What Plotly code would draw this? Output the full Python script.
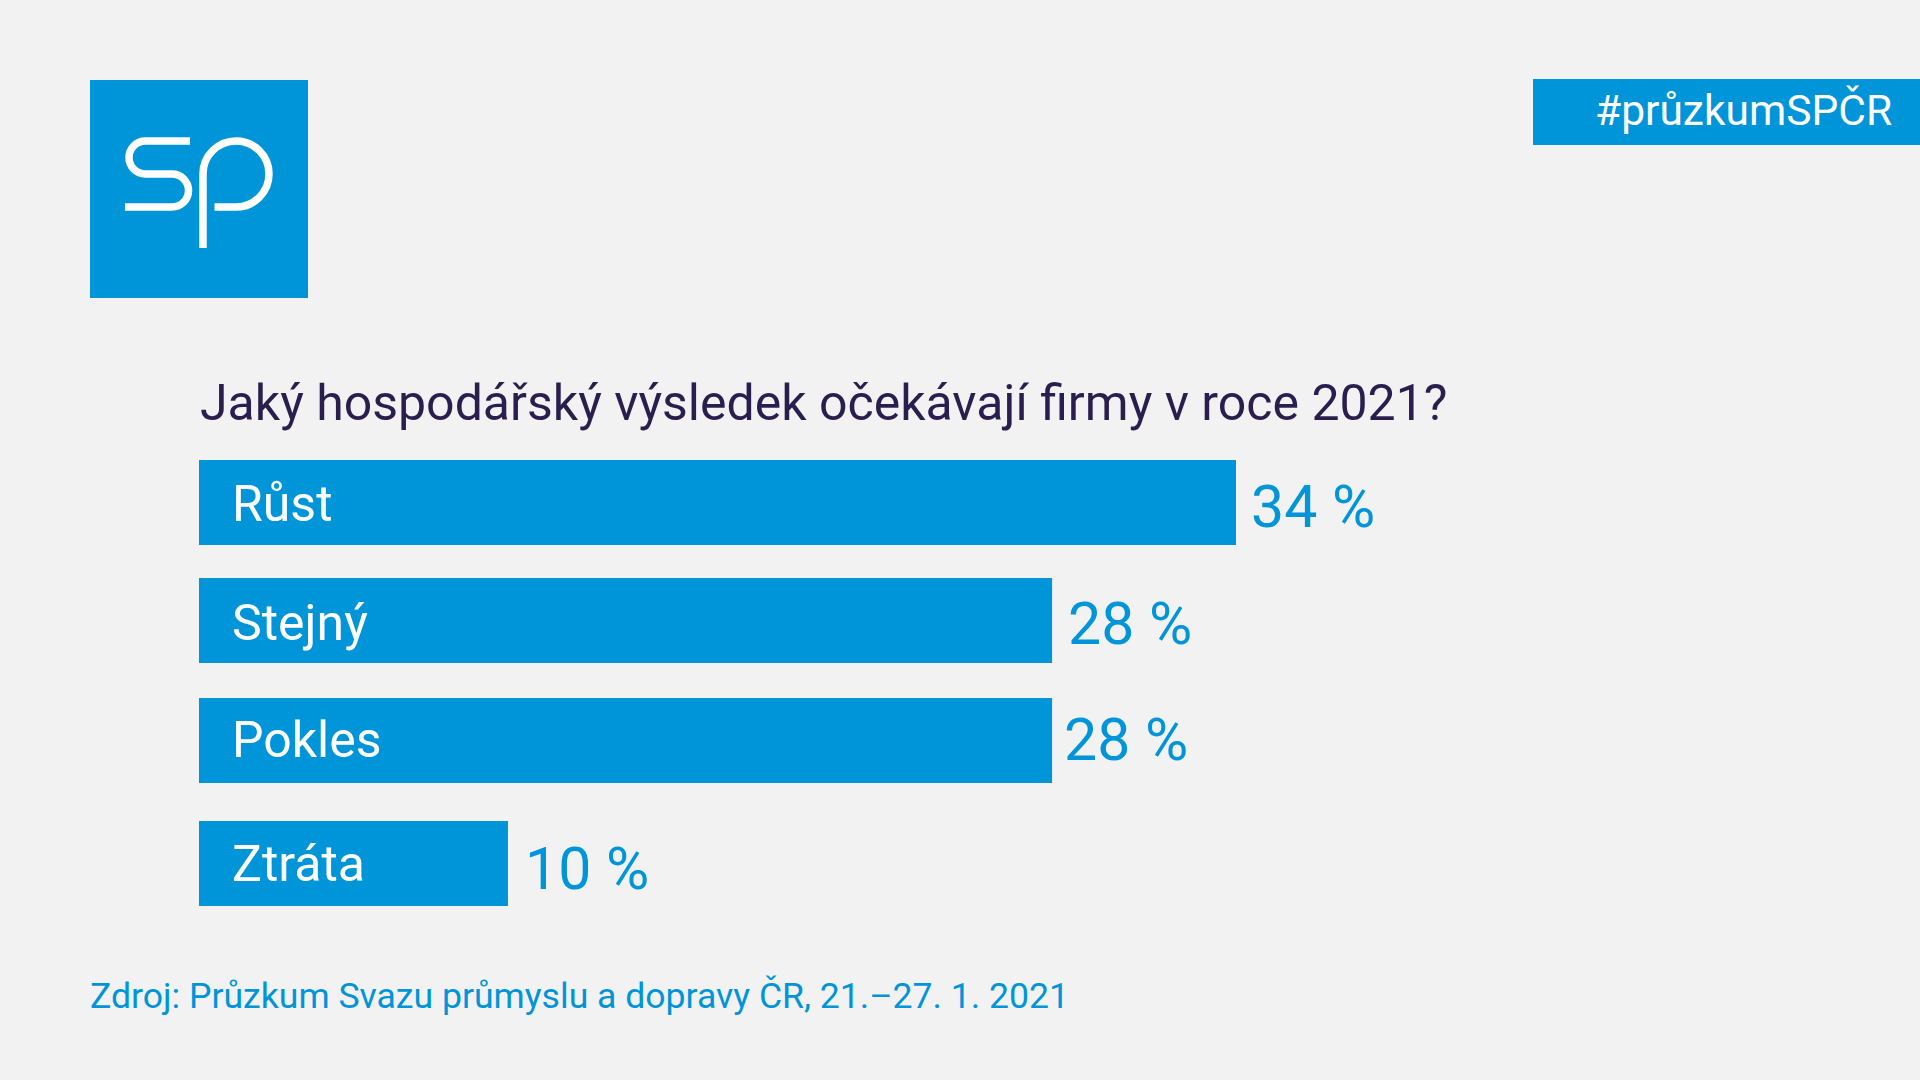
import plotly.graph_objects as go

blue = '#0094D9'
bg = '#F2F2F2'
dark = '#2A1E4E'
font = 'Roboto'

# x scale: 30.5 px per percent, bars start 199 px from the left
px_per_pct = 30.5
x_start = 199

labels = ['Růst', 'Stejný', 'Pokles', 'Ztráta']
values = [34, 28, 28, 10]
# bars in the picture are not exactly to scale with the printed numbers
bar_len = [34, 27.97, 27.97, 10.13]
y_pos = [502.5, 620.5, 740.5, 863.5]
value_x = [1251, 1068, 1064, 525]
value_y = [506, 623, 739, 868]
label_y = [504, 623, 740, 864]


def pap_x(v):
    return v / 1920


def pap_y(v):
    return 1 - v / 1080


def p(x, y):
    return f'{pap_x(x):.5f},{pap_y(y):.5f}'


def curve(x1, y1, x2, y2, x3, y3):
    return f'C{p(x1, y1)} {p(x2, y2)} {p(x3, y3)}'


k = 0.5523

r = 16.5
s_path = (
    f'M{p(190, 141)} L{p(145.5, 141)} '
    + curve(145.5 - k * r, 141, 129, 157.5 - k * r, 129, 157.5) + ' '
    + curve(129, 157.5 + k * r, 145.5 - k * r, 174, 145.5, 174) + ' '
    + f'L{p(172, 174)} '
    + curve(172 + k * r, 174, 188.5, 190.5 - k * r, 188.5, 190.5) + ' '
    + curve(188.5, 190.5 + k * r, 172 + k * r, 207, 172, 207) + ' '
    + f'L{p(125, 207)}'
)

r = 33
p_path = (
    f'M{p(203, 248)} L{p(203, 174)} '
    + curve(203, 174 - k * r, 236 - k * r, 141, 236, 141) + ' '
    + curve(236 + k * r, 141, 269, 174 - k * r, 269, 174) + ' '
    + curve(269, 174 + k * r, 236 + k * r, 207, 236, 207) + ' '
    + f'L{p(214.5, 207)}'
)

fig = go.Figure()

fig.add_trace(go.Bar(
    x=bar_len,
    y=y_pos,
    orientation='h',
    width=85,
    marker=dict(color=blue, line=dict(width=0)),
    hoverinfo='skip',
))

fig.add_shape(type='rect', xref='paper', yref='paper', x0=pap_x(90), x1=pap_x(308),
              y0=pap_y(298), y1=pap_y(80), fillcolor=blue, line_width=0)
fig.add_shape(type='rect', xref='paper', yref='paper', x0=pap_x(1533), x1=1,
              y0=pap_y(145), y1=pap_y(79), fillcolor=blue, line_width=0)
for path in [s_path, p_path]:
    fig.add_shape(type='path', xref='paper', yref='paper', path=path,
                  line=dict(color='white', width=7.5))


def text(x, y, s, size, color, anchor='left'):
    fig.add_annotation(x=pap_x(x), y=pap_y(y), xref='paper', yref='paper', text=s,
                       showarrow=False, xanchor=anchor, yanchor='middle', xshift=0,
                       align='left', borderpad=0, borderwidth=0,
                       font=dict(family=font, size=size, color=color))


text(200, 403, 'Jaký hospodářský výsledek očekávají firmy v roce 2021?', 50, dark)
text(1595, 110, '#průzkumSPČR', 42.5, 'white')
text(90, 996, 'Zdroj: Průzkum Svazu průmyslu a dopravy ČR, 21.–27. 1. 2021', 35.6, blue)

for name, val, ly, vx, vy in zip(labels, values, label_y, value_x, value_y):
    text(232, ly, name, 50, 'white')
    text(vx, vy, f'{val} %', 59, blue)

fig.update_layout(
    width=1920,
    height=1080,
    margin=dict(l=0, r=0, t=0, b=0),
    paper_bgcolor=bg,
    plot_bgcolor=bg,
    showlegend=False,
    xaxis=dict(range=[-x_start / px_per_pct, (1920 - x_start) / px_per_pct], visible=False),
    yaxis=dict(range=[1080, 0], visible=False),
)

fig.write_html('out.html', config={'displayModeBar': False},
               post_script="document.body.style.margin='0';")
